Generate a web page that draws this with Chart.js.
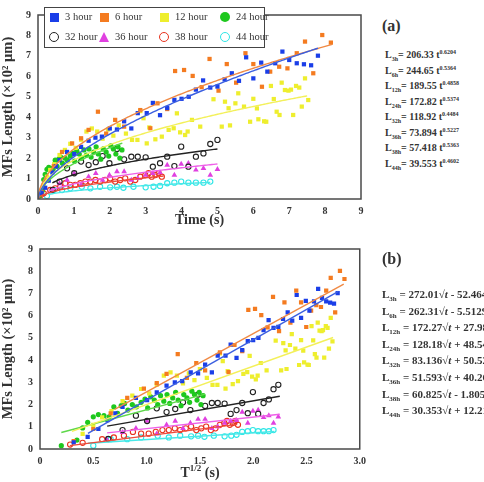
<!DOCTYPE html>
<html>
<head>
<meta charset="utf-8">
<script src="https://cdn.jsdelivr.net/npm/chart.js@4.4.0/dist/chart.umd.min.js"></script>
<style>
  body { margin: 0; width: 484px; height: 482px; overflow: hidden; background: #fff; font-family: "Liberation Serif", "Times New Roman", serif; color: #333; }
  canvas { position: absolute; left: 0; }
  #legend { position: absolute; left: 44px; top: 7px; width: 219px; height: 39px; border: 1.5px solid #444; background: #fff; z-index: 3; }
  .lt { position: absolute; font-size: 10.5px; line-height: 12px; white-space: nowrap; color: #333; }
  .mk { position: absolute; box-sizing: border-box; }
  .eq { position: absolute; font-weight: bold; white-space: nowrap; color: #333; }
  .eqa { font-size: 10px; line-height: 12px; }
  .eqa sub, .eqa sup { font-size: 6px; }
  .eqb { font-size: 11px; line-height: 14px; }
  .eqb sub { font-size: 7px; }
  .tag { position: absolute; font-weight: bold; font-size: 16px; }
  #xtitleB { position: absolute; left: 170px; top: 463px; width: 60px; text-align: center; font-weight: bold; font-size: 14px; z-index: 3; }
  #xtitleB sup { font-size: 9px; }
</style>
</head>
<body>
<canvas id="chartA" width="372" height="236" style="top:0"></canvas>
<canvas id="chartB" width="372" height="250" style="top:232px"></canvas>
<div id="legend"></div>
<div class="tag" style="left:382px;top:17px">(a)</div>
<div class="tag" style="left:382px;top:250px">(b)</div>
<div id="xtitleB">T<sup>1/2</sup> (s)</div>
<div id="eqs"></div>
<script>
// series labels and styles
const hours = ["3 hour", "6 hour", "12 hour", "24 hour", "32 hour", "36 hour", "38 hour", "44 hour"];
const subs = ["3h", "6h", "12h", "24h", "32h", "36h", "38h", "44h"];
const markColors = ["#1a3ee8", "#f47b20", "#eeee2e", "#1ec81e", "#222222", "#e040e0", "#e8321e", "#2ee6e6"];
const lineColors = ["#3b5fe0", "#f08a45", "#f3f05a", "#5ed84a", "#222222", "#ef5fe8", "#ef4a3a", "#48e8e8"];
const shapes = ["rect", "rect", "rect", "circle", "circle", "triangle", "circle", "circle"];
const filled = [true, true, true, true, false, true, false, false];

// measured points: time (s) and length (x10^2 um)
const t3h = [0.1, 0.2, 0.3, 0.4, 0.5, 0.6, 0.81, 1.01, 1.2, 1.41, 1.6, 1.78, 2.0, 2.2, 2.4, 2.6, 2.78, 3.03, 3.2, 3.4, 3.6, 3.8, 4.0, 4.2, 4.4, 4.6, 4.8, 5.0, 5.2, 5.4, 5.6, 5.8, 6.0, 6.22, 6.39, 6.61, 6.81, 7.0, 7.21, 7.41, 7.61, 7.8];
const L3h = [0.3, 0.55, 0.9, 1.3, 1.6, 1.9, 2.3, 2.2, 2.55, 2.85, 3.0, 3.05, 3.45, 3.4, 3.8, 3.45, 4.2, 4.2, 4.7, 4.1, 4.45, 4.85, 4.9, 5.0, 5.35, 5.8, 5.45, 5.5, 5.85, 6.15, 5.78, 6.93, 5.9, 6.67, 6.23, 6.64, 7.21, 6.8, 6.64, 6.59, 6.54, 7.01];
const t6h = [0.1, 0.25, 0.44, 0.67, 0.95, 1.2, 1.41, 1.67, 1.9, 2.15, 2.4, 2.85, 3.13, 3.33, 3.6, 3.82, 4.07, 4.31, 4.56, 4.78, 5.03, 5.26, 5.52, 5.78, 6.0, 6.24, 6.47, 6.72, 6.95, 7.21, 7.44, 7.67, 7.92, 8.16];
const L6h = [0.35, 0.9, 1.6, 2.3, 2.72, 2.97, 3.38, 4.27, 3.2, 3.87, 3.54, 4.35, 3.46, 4.68, 4.4, 6.26, 6.31, 6.02, 5.47, 6.85, 5.3, 6.6, 5.69, 7.13, 6.6, 5.49, 6.23, 6.47, 6.39, 7.13, 7.7, 6.15, 8.02, 7.65];
const t12h = [0.16, 0.25, 0.34, 0.45, 0.6, 0.75, 0.9, 1.05, 1.2, 1.35, 1.5, 1.65, 1.8, 1.95, 2.1, 2.25, 2.45, 2.62, 2.77, 2.85, 2.94, 3.03, 3.1, 3.27, 3.45, 3.64, 3.78, 3.87, 3.96, 4.1, 4.17, 4.29, 4.52, 4.89, 5.12, 5.21, 5.31, 5.35, 5.5, 5.58, 5.74, 5.91, 6.0, 6.1, 6.14, 6.3, 6.36, 6.49, 6.57, 6.65, 6.73, 6.79, 6.88, 6.98, 7.05, 7.11, 7.19, 7.28, 7.35, 7.44, 7.53];
const L12h = [0.68, 1.09, 1.42, 1.7, 2.15, 2.4, 2.7, 2.5, 2.9, 3.3, 3.45, 3.3, 2.95, 3.4, 3.1, 3.6, 3.2, 2.89, 2.89, 4.3, 3.95, 2.72, 3.5, 2.92, 3.05, 3.38, 3.46, 4.19, 3.26, 3.13, 3.3, 3.87, 3.54, 4.88, 3.54, 4.76, 4.44, 3.6, 4.68, 5.17, 4.52, 3.78, 4.9, 4.43, 3.9, 3.8, 3.78, 5.53, 4.89, 4.27, 4.11, 5.69, 5.33, 5.3, 5.35, 4.11, 5.53, 5.45, 4.52, 5.9, 4.84];
const t24h = [0.04, 0.12, 0.16, 0.2, 0.25, 0.3, 0.36, 0.42, 0.48, 0.53, 0.58, 0.63, 0.68, 0.75, 0.82, 0.9, 0.97, 1.02, 1.08, 1.15, 1.22, 1.28, 1.35, 1.42, 1.48, 1.55, 1.62, 1.68, 1.75, 1.82, 1.9, 1.97, 2.03, 2.1, 2.17, 2.23, 2.28, 2.34];
const L24h = [0.15, 0.4, 0.95, 1.2, 1.45, 1.55, 1.5, 1.45, 1.9, 1.6, 1.95, 2.05, 1.75, 2.0, 1.9, 2.1, 2.25, 1.85, 2.35, 2.2, 2.0, 2.4, 2.15, 2.45, 2.05, 2.3, 2.55, 2.2, 1.95, 2.45, 2.3, 2.1, 2.6, 2.45, 2.2, 2.55, 2.0, 2.4];
const t32h = [0.41, 0.6, 0.81, 1.01, 1.2, 1.41, 1.61, 1.8, 1.99, 2.2, 2.4, 2.6, 2.78, 3.0, 3.2, 3.4, 3.6, 3.8, 3.99, 4.19, 4.4, 4.61, 4.8, 5.0];
const L32h = [0.45, 0.85, 1.5, 1.26, 1.83, 1.66, 1.8, 2.1, 1.75, 2.45, 1.94, 2.07, 2.07, 2.04, 1.58, 1.75, 2.07, 1.61, 2.56, 1.58, 2.07, 2.23, 2.69, 2.89];
const t36h = [0.39, 0.6, 0.81, 1.01, 1.2, 1.41, 1.61, 1.8, 1.99, 2.2, 2.4, 2.6, 2.78, 3.0, 3.2, 3.4, 3.6, 3.8, 3.99, 4.19, 4.4, 4.61, 4.8, 5.0];
const L36h = [0.45, 0.75, 0.93, 1.26, 0.68, 1.09, 1.26, 0.93, 1.17, 1.34, 1.34, 0.93, 1.01, 1.17, 1.26, 1.29, 1.66, 1.17, 1.71, 1.75, 1.42, 1.5, 1.17, 1.45];
const t38h = [0.08, 0.16, 0.34, 0.48, 0.62, 0.76, 0.9, 1.04, 1.18, 1.32, 1.46, 1.6, 1.73, 1.87, 2.01, 2.15, 2.29, 2.43, 2.57, 2.71, 2.85, 2.99, 3.08, 3.17, 3.27, 3.36, 3.45];
const L38h = [0.2, 0.28, 0.44, 0.52, 0.6, 0.77, 0.69, 0.69, 0.77, 0.85, 0.85, 0.93, 0.85, 0.93, 1.01, 0.85, 0.93, 1.01, 0.85, 0.93, 1.09, 1.17, 1.26, 1.09, 1.17, 1.26, 1.09];
const t44h = [0.25, 0.44, 0.67, 0.9, 1.22, 1.46, 1.73, 2.01, 2.2, 2.38, 2.66, 3.0, 3.22, 3.4, 3.6, 3.8, 3.99, 4.19, 4.4, 4.61, 4.8];
const L44h = [0.15, 0.44, 0.44, 0.52, 0.6, 0.52, 0.6, 0.57, 0.6, 0.55, 0.6, 0.57, 0.6, 0.64, 0.77, 0.8, 0.85, 0.8, 0.8, 0.8, 0.85];

// fitted equations as printed (um)
const aCoef = ["206.33", "244.65", "189.55", "172.82", "118.92", "73.894", "57.418", "39.553"];
const aExp = ["0.6204", "0.5364", "0.4858", "0.5374", "0.4484", "0.5227", "0.5363", "0.4602"];
const bSlope = ["272.01", "262.31", "172.27", "128.18", "83.136", "51.593", "60.825", "30.353"];
const bInt = ["- 52.464", "- 5.5129", "+ 27.98", "+ 48.54", "+ 50.52", "+ 40.26", "- 1.8058", "+ 12.218"];
// fitted line ranges
const aFrom = [0, 0, 0, 0, 0.4, 0.3, 0, 0.3];
const aTo = [7.8, 8.2, 7.5, 2.35, 5, 5, 3.5, 4.8];
const bFrom = [0.45, 0.7, 0.3, 0.2, 0.63, 0.63, 0.28, 0.45];
const bTo = [2.8, 2.85, 2.75, 1.55, 2.25, 2.25, 1.85, 2.2];

const times = [t3h, t6h, t12h, t24h, t32h, t36h, t38h, t44h];
const lens = [L3h, L6h, L12h, L24h, L32h, L36h, L38h, L44h];

function num(s) { return parseFloat(s.replace(/\s/g, "")) / 100; }

function pointSet(i, sqrtX) {
  return {
    data: times[i].map((t, k) => ({ x: sqrtX ? Math.sqrt(t) : t, y: lens[i][k] })),
    pointStyle: shapes[i],
    pointRadius: shapes[i] == "rect" ? 3 : (shapes[i] == "triangle" ? 3.3 : 2.6),
    backgroundColor: filled[i] ? markColors[i] : "rgba(255,255,255,0)",
    borderColor: markColors[i],
    borderWidth: filled[i] ? 0 : 1.1,
    showLine: false,
    order: 1
  };
}

function lineSet(i, pts) {
  return {
    data: pts,
    showLine: true,
    pointRadius: 0,
    borderColor: lineColors[i],
    borderWidth: 1.4,
    fill: false,
    tension: 0,
    order: 0
  };
}

function powerCurve(i) {
  const c = num(aCoef[i]), b = parseFloat(aExp[i]);
  const pts = [];
  for (let t = aFrom[i]; t < aTo[i]; t += 0.05) pts.push({ x: t, y: c * Math.pow(t, b) });
  pts.push({ x: aTo[i], y: c * Math.pow(aTo[i], b) });
  return pts;
}

function linearFit(i) {
  const m = num(bSlope[i]), c = num(bInt[i]);
  return [bFrom[i], bTo[i]].map(s => ({ x: s, y: m * s + c }));
}

const frame = {
  id: "frame",
  afterDraw(chart) {
    const a = chart.chartArea, ctx = chart.ctx;
    ctx.save();
    ctx.strokeStyle = "#4a4a4a";
    ctx.lineWidth = 1.5;
    ctx.strokeRect(a.left, a.top, a.right - a.left, a.bottom - a.top);
    ctx.restore();
  }
};

const tickFont = { family: "Liberation Serif", size: 10, weight: "bold" };
const titleFont = { family: "Liberation Serif", size: 14, weight: "bold" };
const yTitleFont = { family: "Liberation Serif", size: 14.5, weight: "bold" };

function makeChart(id, datasets, xMax, xStep, xTitle, yWidth, pad) {
  return new Chart(document.getElementById(id), {
    type: "scatter",
    data: { datasets: datasets },
    options: {
      responsive: false,
      animation: false,
      events: [],
      layout: { padding: pad },
      plugins: { legend: { display: false }, tooltip: { enabled: false } },
      scales: {
        x: {
          type: "linear", min: 0, max: xMax,
          grid: { display: false, drawTicks: false },
          border: { display: false },
          ticks: { stepSize: xStep, font: tickFont, color: "#333", padding: 6 },
          title: { display: !!xTitle, text: xTitle, font: titleFont, color: "#333", padding: { top: 2 } },
          afterFit: s => { s.height = 34; }
        },
        y: {
          min: 0, max: 9,
          grid: { display: false, drawTicks: false },
          border: { display: false },
          ticks: { stepSize: 1, font: tickFont, color: "#333", padding: 7 },
          title: { display: true, text: "MFs Length (×10² μm)", font: yTitleFont, color: "#333", padding: { top: 0, bottom: 0 } },
          afterFit: s => { s.width = yWidth; }
        }
      }
    },
    plugins: [frame]
  });
}

const dsA = [], dsB = [];
for (let i = 0; i < 8; i++) {
  dsA.push(pointSet(i, false));
  dsB.push(pointSet(i, true));
}
for (let i = 0; i < 8; i++) {
  dsA.push(lineSet(i, powerCurve(i)));
  dsB.push(lineSet(i, linearFit(i)));
}

makeChart("chartA", dsA, 9, 1, "Time (s)", 38, { top: 15, right: 11, bottom: 3, left: 0 });
makeChart("chartB", dsB, 3, 0.5, "", 40, { top: 17, right: 11, bottom: -1, left: 0 });

// legend
const lg = document.getElementById("legend");
const colX = [9, 59, 119, 180];
const rowY = [9, 29];
hours.forEach((h, i) => {
  const cx = colX[i % 4], cy = rowY[Math.floor(i / 4)];
  const m = document.createElement("div");
  m.className = "mk";
  if (shapes[i] == "rect") {
    m.style.cssText = `left:${cx - 4.5}px;top:${cy - 4.5}px;width:9px;height:9px;background:${markColors[i]}`;
  } else if (shapes[i] == "triangle") {
    m.style.cssText = `left:${cx - 5.5}px;top:${cy - 5.5}px;width:0;height:0;border-left:5.5px solid transparent;border-right:5.5px solid transparent;border-bottom:10px solid ${markColors[i]}`;
  } else {
    m.style.cssText = `left:${cx - 5}px;top:${cy - 5}px;width:10px;height:10px;border-radius:50%;` +
      (filled[i] ? `background:${markColors[i]}` : `border:1.5px solid ${markColors[i]}`);
  }
  lg.appendChild(m);
  const tx = document.createElement("div");
  tx.className = "lt";
  tx.style.left = (cx + 11) + "px";
  tx.style.top = (cy - 6) + "px";
  tx.textContent = h;
  lg.appendChild(tx);
});

// equations
const eqs = document.getElementById("eqs");
subs.forEach((s, i) => {
  const a = document.createElement("div");
  a.className = "eq eqa";
  a.style.left = "385px";
  a.style.top = (46 + i * 15.5) + "px";
  a.innerHTML = `L<sub>${s}</sub>= ${aCoef[i]} t<sup>${aExp[i]}</sup>`;
  eqs.appendChild(a);
  const b = document.createElement("div");
  b.className = "eq eqb";
  b.style.left = "382px";
  b.style.top = (287 + i * 16.6) + "px";
  b.innerHTML = `L<sub>${s}</sub> = ${bSlope[i]}√<i>t</i> ${bInt[i]}`;
  eqs.appendChild(b);
});
</script>
</body>
</html>
